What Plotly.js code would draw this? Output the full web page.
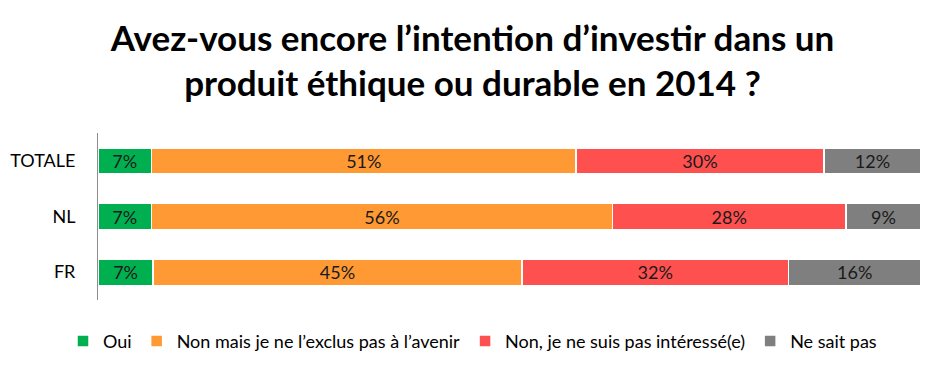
<!DOCTYPE html>
<html>
<head>
<meta charset="utf-8">
<script src="https://cdn.plot.ly/plotly-3.0.1.min.js"></script>
<style>html,body{margin:0;padding:0;background:#fff;}#chart{width:945px;height:375px;}</style>
</head>
<body>
<div id="chart"></div>
<script>
const categories = ["TOTALE", "NL", "FR"];
const seriesNames = ["Oui", "Non mais je ne l’exclus pas à l’avenir", "Non, je ne suis pas intéressé(e)", "Ne sait pas"];
const oui = [6.5, 6.5, 6.7];
const nonMais = [51.6, 56.0, 44.8];
const nonInteresse = [30.1, 28.4, 32.4];
const neSaitPas = [11.8, 9.1, 16.1];
const ouiLabels = ["7%", "7%", "7%"];
const nonMaisLabels = ["51%", "56%", "45%"];
const nonInteresseLabels = ["30%", "28%", "32%"];
const neSaitPasLabels = ["12%", "9%", "16%"];
const colors = ["#00B050", "#FF9933", "#FF5050", "#7F7F7F"];

const values = [oui, nonMais, nonInteresse, neSaitPas];
const labels = [ouiLabels, nonMaisLabels, nonInteresseLabels, neSaitPasLabels];
const FONT = "Lato, 'Open Sans', sans-serif";

const traces = values.map((v, i) => ({
  type: "bar",
  orientation: "h",
  name: seriesNames[i],
  y: categories,
  x: v,
  text: labels[i],
  textposition: "inside",
  insidetextanchor: "middle",
  textangle: 0,
  constraintext: "none",
  textfont: {family: FONT, size: 18, color: "#1a1a1a"},
  marker: {color: colors[i], line: {color: "#ffffff", width: 1.5}},
  hoverinfo: "skip"
}));

const layout = {
  width: 945,
  height: 375,
  margin: {l: 97.5, r: 24, t: 133, b: 75},
  paper_bgcolor: "#ffffff",
  plot_bgcolor: "#ffffff",
  barmode: "stack",
  bargap: 0.53,
  font: {family: FONT, size: 16, color: "#000000"},
  title: {
    text: "Avez-vous encore l’intention d’investir dans un<br>produit éthique ou durable en 2014 ?",
    font: {family: FONT, size: 35, color: "#000000", weight: "bold"},
    x: 0.5, xanchor: "center", xref: "container",
    y: 0.865, yanchor: "top", yref: "container"
  },
  xaxis: {
    range: [0, 100],
    showgrid: false, zeroline: false, showline: false, showticklabels: false, ticks: "",
    fixedrange: true
  },
  yaxis: {
    autorange: "reversed",
    showgrid: false, zeroline: false,
    showline: true, linecolor: "#8c8c8c", linewidth: 1,
    ticks: "", ticklabelstandoff: 18,
    tickfont: {family: FONT, size: 18, color: "#000000"},
    fixedrange: true
  },
  showlegend: true,
  legend: {
    orientation: "h",
    x: 0.5, xanchor: "center", xref: "container",
    y: 0.09, yanchor: "middle", yref: "container",
    font: {family: FONT, size: 18, color: "#000000"},
    traceorder: "normal",
    itemwidth: 30
  }
};

Plotly.newPlot("chart", traces, layout, {displayModeBar: false, staticPlot: true});
</script>
</body>
</html>
